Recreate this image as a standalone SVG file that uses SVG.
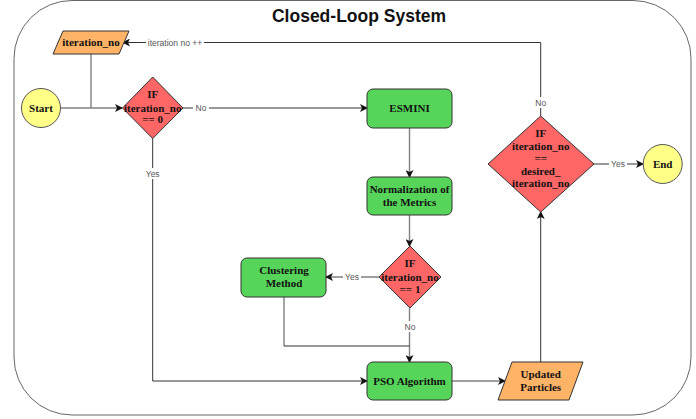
<svg xmlns="http://www.w3.org/2000/svg" width="696" height="419" viewBox="0 0 696 419">
<style>
.node-text{font-family:"Liberation Serif","Times New Roman",serif;font-weight:bold;font-size:11px;fill:#111;text-anchor:middle}
.lbl{font-family:"Liberation Sans",Arial,sans-serif;font-size:8.5px;fill:#555;text-anchor:middle}
.lblbg{fill:#fff}
.dark{fill:none;stroke:#333;stroke-width:1}
.gray{fill:none;stroke:#808080;stroke-width:1.4}
.green{fill:#57d55a;stroke:#333;stroke-width:1}
.red{fill:#ff6666;stroke:#333;stroke-width:1}
.orange{fill:#ffb366;stroke:#333;stroke-width:1}
.yellow{fill:#ffff88;stroke:#555;stroke-width:1}
</style>
<defs>
<marker id="arr" viewBox="0 0 8 8" refX="7" refY="4" markerWidth="8" markerHeight="8" markerUnits="userSpaceOnUse" orient="auto">
<path d="M0,0 L8,4 L0,8 L2,4 Z" fill="#111"/>
</marker>
</defs>
<rect x="0" y="0" width="696" height="419" fill="#fff"/>
<rect id="container" x="14" y="0.5" width="677" height="414.5" rx="58" ry="58" fill="none" stroke="#666" stroke-width="1"/>
<text x="359" y="22" font-family="Liberation Sans,Arial,sans-serif" font-weight="bold" font-size="17.5" text-anchor="middle" fill="#111">Closed-Loop System</text>

<g id="connectors">
<path class="gray" d="M91,54 V108"/>
<path class="gray" d="M60.5,108 H122" marker-end="url(#arr)"/>
<path class="dark" d="M183,108 H367" marker-end="url(#arr)"/>
<path class="dark" d="M152.7,138 V381 H367" marker-end="url(#arr)"/>
<path class="gray" d="M409.5,128 V177" marker-end="url(#arr)"/>
<path class="gray" d="M409.5,215 V246" marker-end="url(#arr)"/>
<path class="gray" d="M379,277 H326" marker-end="url(#arr)"/>
<path class="gray" d="M409.5,308 V362" marker-end="url(#arr)"/>
<path class="gray" d="M284,297 V346"/>
<path class="dark" d="M284,346 H409.5"/>
<path class="gray" d="M452,381 H505" marker-end="url(#arr)"/>
<path class="dark" d="M540.7,362 V212" marker-end="url(#arr)"/>
<path class="dark" d="M540.7,116 V42.5 H123" marker-end="url(#arr)"/>
<path class="dark" d="M594,164 H643" marker-end="url(#arr)"/>

<rect class="lblbg" x="193" y="102" width="16" height="11"/>
<text class="lbl" x="201" y="111">No</text>
<rect class="lblbg" x="144" y="168" width="18" height="11"/>
<text class="lbl" x="152.7" y="177">Yes</text>
<rect class="lblbg" x="343" y="271" width="18" height="11"/>
<text class="lbl" x="352" y="280">Yes</text>
<rect class="lblbg" x="402" y="321" width="16" height="11"/>
<text class="lbl" x="410" y="330">No</text>
<rect class="lblbg" x="146" y="37" width="58" height="11"/>
<text class="lbl" x="175" y="46">iteration no ++</text>
<rect class="lblbg" x="533" y="97" width="16" height="11"/>
<text class="lbl" x="540.7" y="106">No</text>
<rect class="lblbg" x="609" y="158" width="18" height="11"/>
<text class="lbl" x="618" y="167">Yes</text>
</g>

<g id="iteration_no">
<path class="orange" d="M63,31 H129 L119,54 H53 Z"/>
<text class="node-text" x="91" y="46">iteration_no</text>
</g>
<g id="start">
<circle class="yellow" cx="41" cy="108" r="19.5"/>
<text class="node-text" x="41" y="112">Start</text>
</g>
<g id="if_zero">
<path class="red" d="M152.7,77 L183,108 L152.7,138.5 L122.5,108 Z"/>
<text class="node-text" x="152.7" y="98">IF</text>
<text class="node-text" x="152.7" y="111.5">iteration_no</text>
<text class="node-text" x="152.7" y="122.5">== 0</text>
</g>
<g id="esmini">
<rect class="green" x="367" y="89" width="85" height="39" rx="6"/>
<text class="node-text" x="409.5" y="112">ESMINI</text>
</g>
<g id="normalization">
<rect class="green" x="367" y="177" width="85" height="38" rx="6"/>
<text class="node-text" x="409.5" y="193">Normalization of</text>
<text class="node-text" x="409.5" y="206">the Metrics</text>
</g>
<g id="if_one">
<path class="red" d="M410,246 L441,277 L410,308 L379,277 Z"/>
<text class="node-text" x="410" y="267">IF</text>
<text class="node-text" x="410" y="281">iteration_no</text>
<text class="node-text" x="410" y="293">== 1</text>
</g>
<g id="clustering">
<rect class="green" x="241" y="258" width="85" height="39" rx="6"/>
<text class="node-text" x="284" y="274">Clustering</text>
<text class="node-text" x="284" y="287">Method</text>
</g>
<g id="pso">
<rect class="green" x="367" y="362" width="85" height="38" rx="6"/>
<text class="node-text" x="409.5" y="385">PSO Algorithm</text>
</g>
<g id="updated_particles">
<path class="orange" d="M512,362 H583 L569,400 H498 Z"/>
<text class="node-text" x="540.7" y="378">Updated</text>
<text class="node-text" x="540.7" y="391">Particles</text>
</g>
<g id="if_desired">
<path class="red" d="M540.7,116 L594,164 L540.7,212 L488,164 Z"/>
<text class="node-text" x="540.7" y="137">IF</text>
<text class="node-text" x="540.7" y="150">iteration_no</text>
<text class="node-text" x="540.7" y="162">==</text>
<text class="node-text" x="540.7" y="175">desired_</text>
<text class="node-text" x="540.7" y="187">iteration_no</text>
</g>
<g id="end">
<circle class="yellow" cx="662.7" cy="164" r="19.5"/>
<text class="node-text" x="662.7" y="168">End</text>
</g>
</svg>
